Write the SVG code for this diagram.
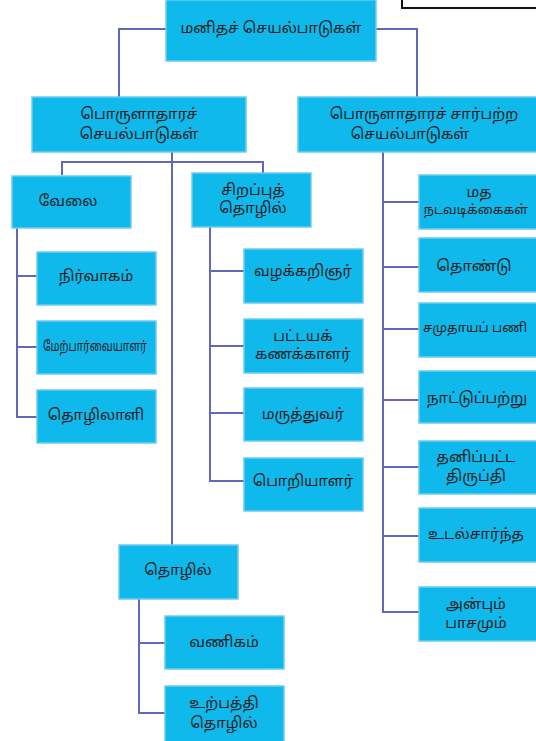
<svg xmlns="http://www.w3.org/2000/svg" width="536" height="741" viewBox="0 0 536 741">
<style>
.box{fill:#10B9EC;stroke:#6FCBF2;stroke-width:1.5}
.t{font-family:"Noto Sans Tamil","Latha","Lohit Tamil","Noto Sans",sans-serif;font-size:15px;fill:#1E1E24;text-anchor:middle;dominant-baseline:central}
.s{font-size:13px}
.c{fill:none;stroke:#6367B9;stroke-width:2}
</style>
<rect width="536" height="741" fill="#FFFFFF"/>
<rect x="402" y="-4" width="140" height="12" fill="#FFFFFF" stroke="#111" stroke-width="2"/>
<g id="connectors">
<polyline class="c" points="166,29 119,29 119,97"/>
<polyline class="c" points="376,29 417,29 417,97"/>
<polyline class="c" points="172,152 172,545"/>
<polyline class="c" points="62,175 62,162 263,162 263,173"/>
<polyline class="c" points="17,228 17,417 37,417"/>
<line class="c" x1="17" y1="276" x2="37" y2="276"/>
<line class="c" x1="17" y1="347" x2="37" y2="347"/>
<polyline class="c" points="210,227 210,481 244,481"/>
<line class="c" x1="210" y1="271" x2="244" y2="271"/>
<line class="c" x1="210" y1="346" x2="244" y2="346"/>
<line class="c" x1="210" y1="413" x2="244" y2="413"/>
<polyline class="c" points="139,599 139,713 165,713"/>
<line class="c" x1="139" y1="643" x2="165" y2="643"/>
<polyline class="c" points="383,152 383,612 419,612"/>
<line class="c" x1="383" y1="202" x2="419" y2="202"/>
<line class="c" x1="383" y1="267" x2="419" y2="267"/>
<line class="c" x1="383" y1="329" x2="419" y2="329"/>
<line class="c" x1="383" y1="400" x2="419" y2="400"/>
<line class="c" x1="383" y1="467" x2="419" y2="467"/>
<line class="c" x1="383" y1="536" x2="419" y2="536"/>
</g>
<g id="root"><rect class="box" x="166" y="0" width="210" height="61"/><text class="t" x="271" y="29">மனிதச் செயல்பாடுகள்</text></g>
<g id="economic"><rect class="box" x="32" y="97" width="214" height="55"/><text class="t" x="139" y="115">பொருளாதாரச்</text><text class="t" x="139" y="135">செயல்பாடுகள்</text></g>
<g id="noneconomic"><rect class="box" x="298" y="97" width="245" height="55"/><text class="t" x="424" y="115">பொருளாதாரச் சார்பற்ற</text><text class="t" x="410" y="135">செயல்பாடுகள்</text></g>
<g id="velai"><rect class="box" x="12" y="176" width="119" height="52"/><text class="t" x="68" y="202">வேலை</text></g>
<g id="sirappu"><rect class="box" x="192" y="173" width="119" height="54"/><text class="t" x="253" y="191">சிறப்புத்</text><text class="t" x="253" y="209">தொழில்</text></g>
<g id="nirvagam"><rect class="box" x="37" y="252" width="119" height="53"/><text class="t" x="96" y="277">நிர்வாகம்</text></g>
<g id="merparvai"><rect class="box" x="37" y="321" width="119" height="53"/><text class="t" x="95" y="347" style="font-size:14px" textLength="104" lengthAdjust="spacingAndGlyphs">மேற்பார்வையாளர்</text></g>
<g id="thozhilali"><rect class="box" x="37" y="390" width="119" height="53"/><text class="t" x="96" y="416">தொழிலாளி</text></g>
<g id="vazhakkarignar"><rect class="box" x="244" y="249" width="119" height="54"/><text class="t" x="303" y="272">வழக்கறிஞர்</text></g>
<g id="pattaya"><rect class="box" x="244" y="319" width="119" height="54"/><text class="t" x="303" y="337">பட்டயக்</text><text class="t" x="303" y="355">கணக்காளர்</text></g>
<g id="maruthuvar"><rect class="box" x="244" y="388" width="119" height="53"/><text class="t" x="303" y="415">மருத்துவர்</text></g>
<g id="poriyalar"><rect class="box" x="244" y="458" width="119" height="53"/><text class="t" x="303" y="482">பொறியாளர்</text></g>
<g id="thozhil"><rect class="box" x="119" y="545" width="119" height="54"/><text class="t" x="178" y="571">தொழில்</text></g>
<g id="vanigam"><rect class="box" x="165" y="616" width="119" height="53"/><text class="t" x="224" y="643">வணிகம்</text></g>
<g id="urpathi"><rect class="box" x="165" y="686" width="119" height="60"/><text class="t" x="224" y="704">உற்பத்தி</text><text class="t" x="224" y="724">தொழில்</text></g>
<g id="matha"><rect class="box" x="419" y="175" width="125" height="54"/><text class="t" x="479" y="193">மத</text><text class="t s" x="476" y="211">நடவடிக்கைகள்</text></g>
<g id="thondu"><rect class="box" x="419" y="238" width="125" height="54"/><text class="t" x="474" y="267">தொண்டு</text></g>
<g id="samuthaya"><rect class="box" x="419" y="303" width="125" height="54"/><text class="t s" x="475" y="329">சமுதாயப் பணி</text></g>
<g id="nattu"><rect class="box" x="419" y="371" width="125" height="52"/><text class="t" x="477" y="399">நாட்டுப்பற்று</text></g>
<g id="thanippatta"><rect class="box" x="419" y="441" width="125" height="53"/><text class="t" x="476" y="458">தனிப்பட்ட</text><text class="t" x="476" y="477">திருப்தி</text></g>
<g id="udal"><rect class="box" x="419" y="508" width="125" height="54"/><text class="t" x="476" y="535">உடல்சார்ந்த</text></g>
<g id="anbum"><rect class="box" x="419" y="587" width="125" height="54"/><text class="t" x="476" y="605">அன்பும்</text><text class="t" x="476" y="624">பாசமும்</text></g>
</svg>
